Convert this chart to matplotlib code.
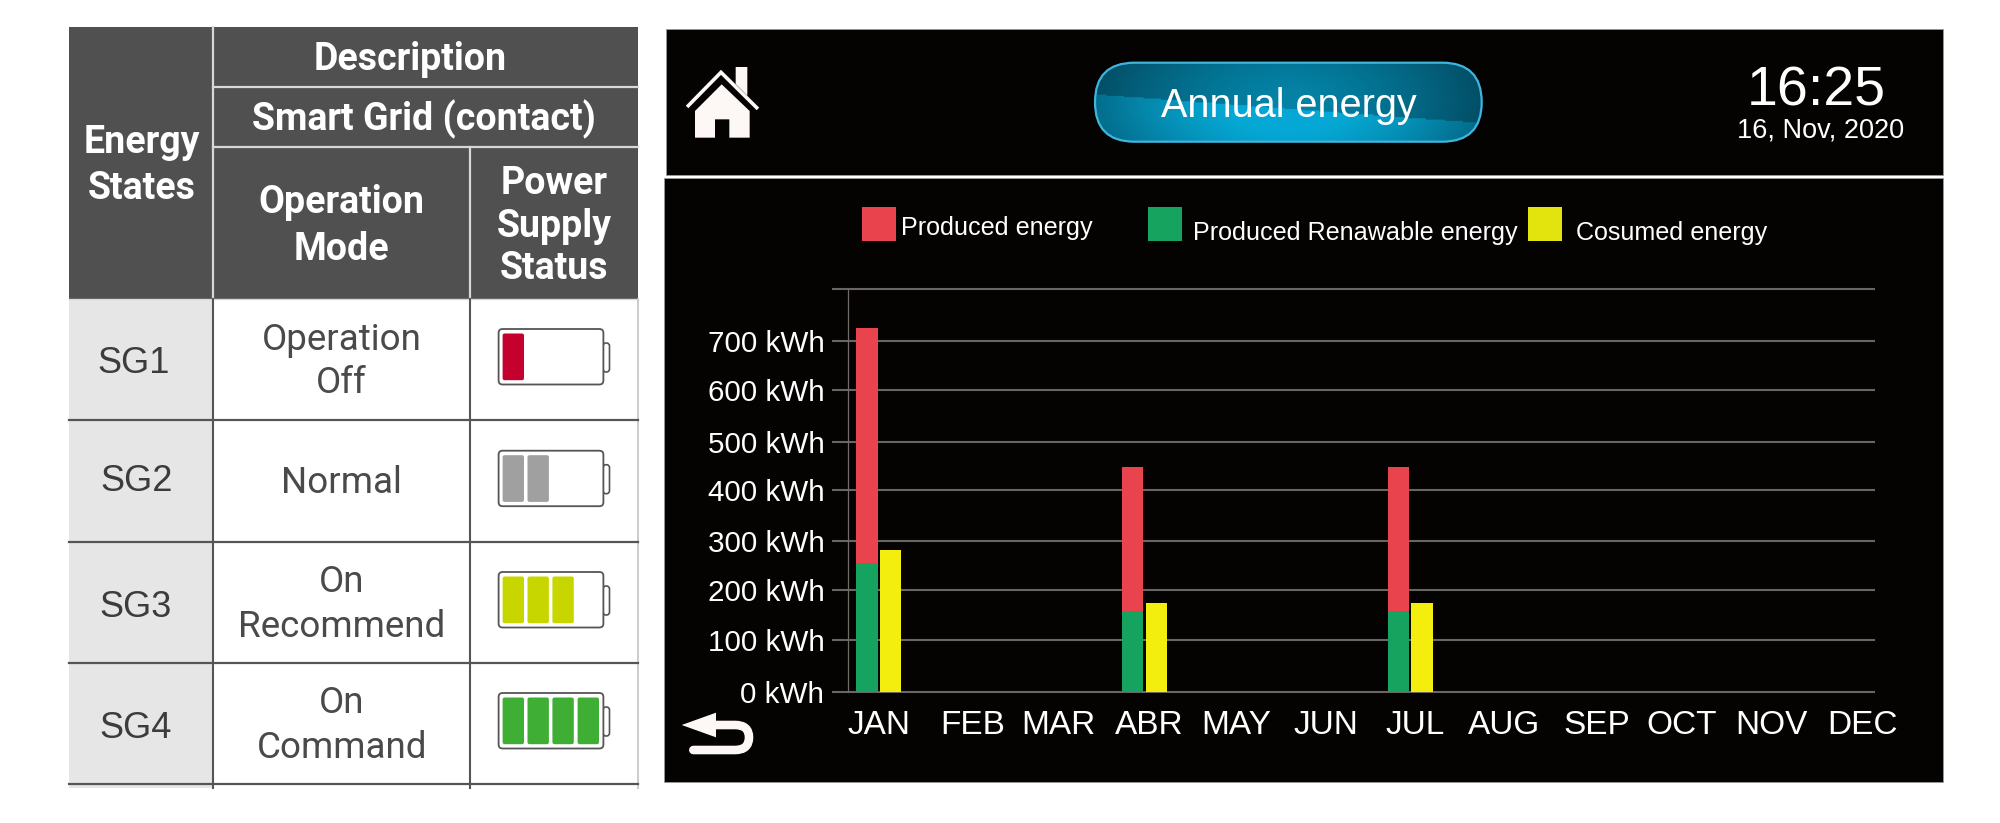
import matplotlib
matplotlib.use("Agg")
import matplotlib.pyplot as plt
import numpy as np
from matplotlib.patches import FancyBboxPatch, PathPatch, Polygon, Rectangle
from matplotlib.path import Path

# chart values
months = ["JAN", "FEB", "MAR", "ABR", "MAY", "JUN", "JUL", "AUG", "SEP", "OCT", "NOV", "DEC"]
month_ticks = [0, 1.055, 2.03, 3.05, 4.03, 5.04, 6.05, 7.05, 8.10, 9.06, 10.07, 11.10]
produced = [725, 0, 0, 449, 0, 0, 449, 0, 0, 0, 0, 0]
renewable = [256, 0, 0, 160, 0, 0, 160, 0, 0, 0, 0, 0]
consumed = [283, 0, 0, 176, 0, 0, 176, 0, 0, 0, 0, 0]
grid_levels = [0, 104, 203, 301, 402, 497, 602, 700, 804]
grid_labels = ["0 kWh", "100 kWh", "200 kWh", "300 kWh", "400 kWh", "500 kWh", "600 kWh", "700 kWh", ""]

# table values
states = ["SG1", "SG2", "SG3", "SG4"]
battery_levels = [1, 2, 3, 4]
battery_colors = ["#c4002f", "#a0a0a0", "#c8d600", "#3fae35"]

W, H = 2000, 823
RED, GREEN, YELLOW = "#e9444e", "#15a35f", "#f3ee0e"
HEADER = "#505050"
PANEL = "#050202"
ICON = "#fdf8f5"

fig = plt.figure(figsize=(20, 8.23), dpi=100, facecolor="white")

# full figure layer in pixel coordinates, for the table and the screen frame
bg = fig.add_axes([0, 0, 1, 1])
bg.set_xlim(0, W)
bg.set_ylim(H, 0)
bg.axis("off")


def rect(x0, y0, x1, y1, color, **kw):
    bg.add_patch(Rectangle((x0, y0), x1 - x0, y1 - y0, facecolor=color, edgecolor="none", **kw))


def txt(x, y, s, size, color="white", family="Liberation Sans", weight="normal", ha="center"):
    bg.text(x, y, s, fontsize=size, color=color, family=family, weight=weight, ha=ha, va="baseline")


# ---- table ----
rect(69, 27, 638, 299, HEADER)
rect(69, 299, 212, 788, "#e6e6e6")
for x, y0, y1 in [(212.5, 27, 299), (470, 147, 299)]:
    bg.plot([x, x], [y0, y1], color="#d8d8d8", lw=1.6)
for y in [87, 147.3]:
    bg.plot([212.5, 638], [y, y], color="#d8d8d8", lw=1.6)
bg.plot([69, 638], [299, 299], color="#d8d8d8", lw=1)
bg.plot([638, 638], [299, 788], color="#c4c4c4", lw=1.2)
for x in [212.5, 470]:
    bg.plot([x, x], [299, 788], color="#555555", lw=1.5)
for y in [420, 541.7, 662.7, 784]:
    bg.plot([69, 638], [y, y], color="#555555", lw=1.6)

head = dict(size=27, family="Roboto", weight="bold")
txt(141.7, 153, "Energy", **head)
txt(141.7, 199, "States", **head)
txt(410.5, 70, "Description", **head)
txt(424, 130, "Smart Grid (contact)", **head)
txt(341, 213, "Operation", **head)
txt(341.7, 260, "Mode", **head)
txt(554, 194, "Power", **head)
txt(554, 236.7, "Supply", **head)
txt(554, 279, "Status", **head)

body = dict(size=26.5, color="#4a4a4a", family="Roboto")
txt(341.7, 350, "Operation", **body)
txt(341.7, 393, "Off", **body)
txt(341.7, 493, "Normal", **body)
txt(341.7, 592, "On", **body)
txt(341.7, 637, "Recommend", **body)
txt(341.7, 713, "On", **body)
txt(341.7, 758, "Command", **body)

state_x = [133.8, 137, 135.4, 136]
state_y = [373, 491, 617, 738]
for s, x, y in zip(states, state_x, state_y):
    txt(x, y, s, 26, color="#3c3c3c")

# battery icons
battery_tops = [329, 450.7, 572, 693]
cell_left = [502.6, 527.5, 552.4, 577.6]
for top, level, col in zip(battery_tops, battery_levels, battery_colors):
    bg.add_patch(FancyBboxPatch((603, top + 14), 6.5, 29, boxstyle="round,pad=0,rounding_size=3",
                                facecolor="white", edgecolor="#555555", lw=1.2))
    bg.add_patch(FancyBboxPatch((498.6, top), 104.8, 55.5, boxstyle="round,pad=0,rounding_size=4",
                                facecolor="white", edgecolor="#555555", lw=1.3))
    for x in cell_left[:level]:
        bg.add_patch(FancyBboxPatch((x, top + 4.5), 21.4, 46.7, boxstyle="round,pad=0,rounding_size=2",
                                    facecolor=col, edgecolor="none"))

# ---- screen panels ----
for x0, y0, y1 in [(665.5, 29.3, 175), (664, 178.3, 781.7)]:
    bg.add_patch(Rectangle((x0, y0), 1942.5 - x0, y1 - y0, facecolor=PANEL, edgecolor="#9a9a9a", lw=0.6))

# home icon
def zx(v):
    return 675 + v / 3


def zy(v):
    return 55 + v / 3


house = [(60, 248), (60, 168), (140, 88), (224, 168), (224, 248), (163, 248), (163, 193), (120, 193), (120, 248)]
bg.add_patch(Polygon([(zx(a), zy(b)) for a, b in house], facecolor=ICON, edgecolor="none"))
chimney = [(182, 36), (217, 36), (217, 122), (182, 87)]
bg.add_patch(Polygon([(zx(a), zy(b)) for a, b in chimney], facecolor=ICON, edgecolor="none"))
bg.plot([zx(40), zx(138), zx(245)], [zy(152), zy(52), zy(158)], color=ICON, lw=2.6, solid_joinstyle="miter")

# back arrow
head_pts = [(20, 75), (123, 38), (123, 112)]
bg.add_patch(Polygon([(675 + a / 3, 700 + b / 3) for a, b in head_pts], facecolor=ICON, edgecolor="none"))
back = [(115, 75), (180, 75), (222, 75), (222, 112), (222, 150), (180, 150), (55, 150)]
back_codes = [Path.MOVETO, Path.LINETO, Path.CURVE3, Path.CURVE3, Path.CURVE3, Path.CURVE3, Path.LINETO]
bg.add_patch(PathPatch(Path([(675 + a / 3, 700 + b / 3) for a, b in back], back_codes), facecolor="none",
                       edgecolor=ICON, lw=6.2, capstyle="round"))

# title pill with a dark to cyan glow
gx, gy = np.meshgrid(np.linspace(1095, 1482, 200), np.linspace(62.7, 141.7, 60))
glow = np.clip(1 - np.hypot((gx - 1288) / 235, (gy - 100) / 120) ** 1.5, 0, 1)
shade = 0.2 + 0.8 * glow
above = gy < 94 + (gx - 1095) * 0.075
shade = np.where(above, shade * 0.7, shade + 0.12)
dark = np.array([0x02, 0x2c, 0x3c]) / 255
light = np.array([0x05, 0xa8, 0xd4]) / 255
pill_img = dark + (light - dark) * np.clip(shade, 0, 1)[..., None]
im = bg.imshow(pill_img, extent=(1095, 1482, 141.7, 62.7), aspect="auto", zorder=2)
pill = FancyBboxPatch((1095, 62.7), 386.7, 79, boxstyle="round,pad=0,rounding_size=39.5",
                      facecolor="none", edgecolor="#3fb5dc", lw=1.6, zorder=3)
bg.add_patch(pill)
im.set_clip_path(pill)
bg.set_xlim(0, W)
bg.set_ylim(H, 0)
bg.text(1288.5, 116.7, "Annual energy", fontsize=28.5, color="white", family="Liberation Sans",
        ha="center", va="baseline", zorder=4)

txt(1816.7, 105, "16:25", 40)
txt(1821, 137, "16, Nov, 2020", 19.5)

# legend
rect(861.5, 206.7, 896.3, 240.7, RED)
rect(1147.6, 206.7, 1182.4, 240.7, GREEN)
rect(1528, 206.7, 1562, 240.7, "#e3e30d")
txt(901.3, 234.5, "Produced energy", 18.1, ha="left")
txt(1193, 239.7, "Produced Renawable energy", 18.1, ha="left")
txt(1576, 239.7, "Cosumed energy", 18.1, ha="left")

# ---- bar chart ----
ax = fig.add_axes([832 / W, 1 - 700 / H, (1875 - 832) / W, (700 - 285) / H])
ax.patch.set_alpha(0)
x = np.arange(len(months))
bar_w = 0.24
ax.bar(x - 0.136, renewable, bar_w, color=GREEN, zorder=3)
ax.bar(x - 0.136, np.array(produced) - np.array(renewable), bar_w, bottom=renewable, color=RED, zorder=3)
ax.bar(x + 0.13, consumed, bar_w, color=YELLOW, zorder=3)
for level in grid_levels:
    ax.axhline(level, color="#6b6460", lw=1.5, zorder=1)
ax.axvline(-0.355, ymin=16.55 / 827.55, ymax=(16.55 + 804) / 827.55, color="#706a68", lw=0.9, zorder=1)

ax.set_xlim(-0.530, 11.242)
ax.set_ylim(-16.55, 811)
ax.set_xticks(month_ticks, months)
ax.set_yticks(grid_levels, grid_labels)
ax.tick_params(axis="x", length=0, pad=7, labelsize=24, labelcolor="white")
ax.tick_params(axis="y", length=0, pad=5.5, labelsize=21.3, labelcolor="white")
for label in ax.get_xticklabels() + ax.get_yticklabels():
    label.set_family("Liberation Sans")
for spine in ax.spines.values():
    spine.set_visible(False)

fig.savefig("out.png", dpi=100)
